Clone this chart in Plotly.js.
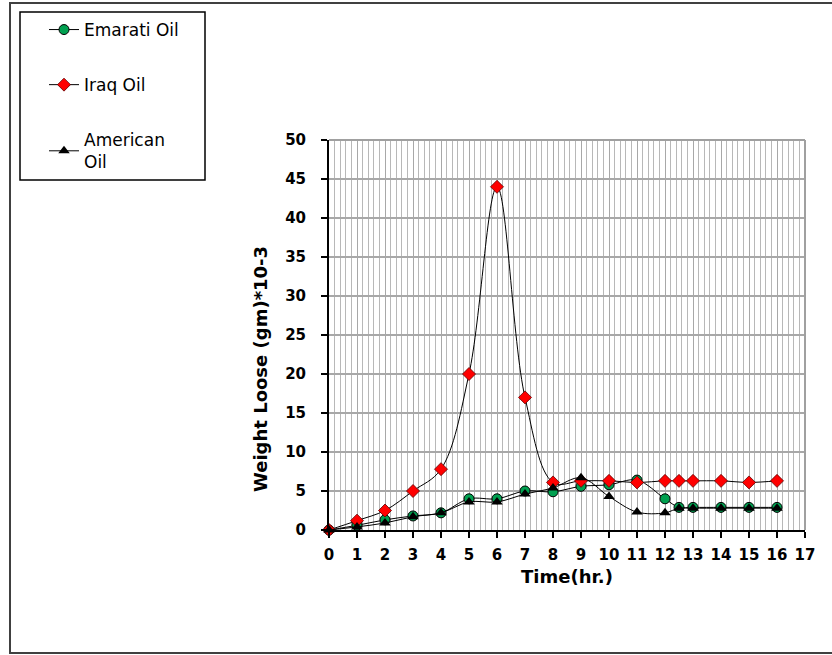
<!DOCTYPE html>
<html>
<head>
<meta charset="utf-8">
<script src="https://cdn.plot.ly/plotly-3.0.1.min.js"></script>
<style>html,body{margin:0;padding:0;background:#fff;}#chart{width:832px;height:655px;}</style>
</head>
<body>
<div id="chart"></div>
<script>
// Data
var timeHr = [0, 1, 2, 3, 4, 5, 6, 7, 8, 9, 10, 11, 12, 12.5, 13, 14, 15, 16];
var emaratiOil = [0, 0.6, 1.3, 1.8, 2.2, 4.0, 4.0, 5.0, 4.9, 5.6, 5.8, 6.4, 4.0, 2.9, 2.9, 2.9, 2.9, 2.9];
var iraqOil = [0, 1.2, 2.5, 5.0, 7.8, 20, 44, 17, 6.1, 6.3, 6.3, 6.1, 6.3, 6.3, 6.3, 6.3, 6.1, 6.3];
var americanOil = [0, 0.4, 0.9, 1.7, 2.2, 3.6, 3.6, 4.6, 5.4, 6.7, 4.3, 2.3, 2.2, 2.8, 2.8, 2.8, 2.8, 2.8];
var seriesNames = ["Emarati Oil", "Iraq Oil", "American<br>Oil"];
var xTickVals = [0,1,2,3,4,5,6,7,8,9,10,11,12,13,14,15,16,17];
var yTickVals = [0,5,10,15,20,25,30,35,40,45,50];

// Plot-area geometry (px)
var W = 832, H = 655, L = 329, R = 805, T = 140, B = 530;
function px(x){ return (x - L) / (R - L); }
function py(y){ return (B - y) / (B - T); }

var lineStyle = {color: '#000', width: 1, shape: 'spline', smoothing: 1};
var traces = [
  {x: timeHr, y: emaratiOil, name: seriesNames[0], legendgroup: 'a', mode: 'lines+markers', line: lineStyle, cliponaxis: false,
   marker: {symbol: 'circle', size: 10, color: '#00a050', line: {color: '#000', width: 1}}},
  {x: timeHr, y: iraqOil, name: seriesNames[1], legendgroup: 'b', mode: 'lines+markers', line: lineStyle, cliponaxis: false,
   marker: {symbol: 'diamond', size: 10, color: '#ff0000', line: {color: '#600000', width: 0.8}}},
  {x: timeHr, y: americanOil, name: seriesNames[2], legendgroup: 'c', mode: 'lines+markers', line: lineStyle, cliponaxis: false,
   marker: {symbol: 'triangle-up', size: 10, color: '#000000', line: {color: '#000', width: 0}}}
];

var tickFont = {family: 'DejaVu Sans', size: 15, color: '#000', weight: 'bold'};
var layout = {
  width: W, height: H,
  margin: {l: L, r: W - R, t: T, b: H - B, pad: 0},
  paper_bgcolor: '#fff', plot_bgcolor: '#fff',
  showlegend: true,
  legend: {x: px(44), y: py(12), xanchor: 'left', yanchor: 'top', borderwidth: 0, bgcolor: 'rgba(0,0,0,0)',
           font: {family: 'DejaVu Sans', size: 17, color: '#000'}, tracegroupgap: 30, traceorder: 'grouped'},
  xaxis: {range: [0, 17], tickvals: xTickVals, ticktext: xTickVals.map(String), ticks: 'outside', ticklen: 6, tickcolor: '#000', tickwidth: 1.5,
          showline: true, linecolor: '#000', linewidth: 1.5, showgrid: true, gridcolor: '#a8a8a8', gridwidth: 1,
          minor: {dtick: 0.2, showgrid: true, gridcolor: '#b8b8b8', gridwidth: 1},
          zeroline: false, tickfont: tickFont, ticklabelstandoff: 4,
          title: {text: 'Time(hr.)', font: {family: 'DejaVu Sans', size: 18, color: '#000', weight: 'bold'}, standoff: 8}},
  yaxis: {range: [0, 50], tickvals: yTickVals, ticktext: yTickVals.map(String), ticks: 'outside', ticklen: 6, tickcolor: '#000', tickwidth: 1.5,
          showline: true, linecolor: '#000', linewidth: 2, showgrid: true, gridcolor: '#a8a8a8', gridwidth: 1.5,
          zeroline: false, tickfont: tickFont, ticklabelstandoff: 12},
  shapes: [
    {type: 'rect', xref: 'paper', yref: 'paper', x0: px(10), x1: px(842), y0: py(653), y1: py(3), line: {color: '#404040', width: 2}, fillcolor: 'rgba(0,0,0,0)', layer: 'below'},
    {type: 'rect', xref: 'paper', yref: 'paper', x0: px(20), x1: px(205), y0: py(180), y1: py(12), line: {color: '#000', width: 1.5}, fillcolor: 'rgba(0,0,0,0)'},
    {type: 'line', xref: 'paper', yref: 'paper', x0: 0, x1: 1, y0: 1, y1: 1, line: {color: '#a0a0a0', width: 2}},
    {type: 'line', xref: 'paper', yref: 'paper', x0: 1, x1: 1, y0: 0, y1: 1, line: {color: '#a0a0a0', width: 2}}
  ],
  annotations: [
    {text: 'Weight Loose (gm)*10-3', xref: 'paper', yref: 'paper', x: px(260), y: py(369), textangle: -90, showarrow: false,
     xanchor: 'center', yanchor: 'middle', font: {family: 'DejaVu Sans', size: 18, color: '#000', weight: 'bold'}}
  ]
};

Plotly.newPlot('chart', traces, layout, {displayModeBar: false, staticPlot: true});
</script>
</body>
</html>
